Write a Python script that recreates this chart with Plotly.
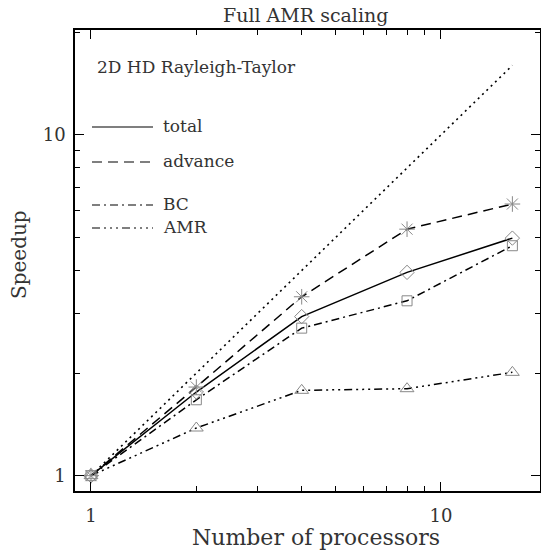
import plotly.graph_objects as go

procs = [1, 2, 4, 8, 16]
total = [1.0, 1.76, 2.93, 3.95, 4.98]
advance = [1.0, 1.82, 3.35, 5.29, 6.27]
bc = [1.0, 1.67, 2.71, 3.26, 4.73]
amr = [1.0, 1.38, 1.78, 1.80, 2.01]
ideal = [1, 2, 4, 8, 16]

series = [
    ("total", total, "solid", "diamond-open", 11),
    ("advance", advance, "10px,6px", "asterisk-open", 13),
    ("BC", bc, "8px,4px,2px,4px", "square-open", 10),
    ("AMR", amr, "8px,4px,2px,4px,2px,4px,2px,4px", "triangle-up-open", 12),
]

FONT = "DejaVu Serif"
TXT = "#333"
W, H = 541, 552
L, R_, T, B = 75, 540, 30, 491  # plot box in page pixels
PW, PH = R_ - L, B - T

fig = go.Figure()
fig.add_trace(go.Scatter(x=procs, y=ideal, mode="lines",
                         line=dict(color="black", width=1.6, dash="2px,4px"),
                         showlegend=False))
for name, vals, dash, sym, sz in series:
    fig.add_trace(go.Scatter(x=procs, y=vals, mode="lines",
                             line=dict(color="black", width=1.5, dash=dash),
                             showlegend=False))
for name, vals, dash, sym, sz in series:
    fig.add_trace(go.Scatter(x=procs, y=vals, mode="markers",
                             marker=dict(symbol=sym, size=sz, color="#888",
                                         line=dict(color="#888", width=1)),
                             showlegend=False))

def px(x):
    return (x - L) / PW

def py(y):
    return (B - y) / PH

# legend drawn by hand
leg_y = [127, 162, 205, 228]
for (name, vals, dash, sym, sz), yy in zip(series, leg_y):
    fig.add_shape(type="line", xref="paper", yref="paper", x0=px(92), x1=px(153),
                  y0=py(yy), y1=py(yy), line=dict(color="black", width=1.2, dash=dash))
    fig.add_annotation(xref="paper", yref="paper", x=px(161), y=py(yy - 1), text=name,
                       showarrow=False, xanchor="left", yanchor="middle",
                       font=dict(family=FONT, size=17, color=TXT))

fig.add_annotation(xref="paper", yref="paper", x=px(95), y=py(67),
                   text="2D HD Rayleigh-Taylor", showarrow=False,
                   xanchor="left", yanchor="middle",
                   font=dict(family=FONT, size=17, color=TXT))

# axis titles and title
fig.add_annotation(xref="paper", yref="paper", x=px(316), y=py(537),
                   text="Number of processors", showarrow=False,
                   xanchor="center", yanchor="middle",
                   font=dict(family=FONT, size=22, color=TXT))
fig.add_annotation(xref="paper", yref="paper", x=px(19), y=py(255),
                   text="Speedup", showarrow=False, textangle=-90,
                   xanchor="center", yanchor="middle",
                   font=dict(family=FONT, size=20, color=TXT))
fig.add_annotation(xref="paper", yref="paper", x=px(305), y=py(15),
                   text="Full AMR scaling", showarrow=False,
                   xanchor="center", yanchor="middle",
                   font=dict(family=FONT, size=19, color=TXT))

axis_common = dict(type="log", showgrid=False, zeroline=False, automargin=False,
                   showline=True, linecolor="black", linewidth=1.5, mirror="ticks",
                   ticks="inside", ticklen=9, tickwidth=1.2, tickcolor="black",
                   tickfont=dict(family=FONT, size=18, color=TXT),
                   tickvals=[1, 10], ticktext=["1", "10"])

fig.update_layout(
    width=W, height=H,
    margin=dict(l=L, r=W - R_, t=T, b=H - B),
    paper_bgcolor="white", plot_bgcolor="white",
    xaxis=dict(axis_common, range=[-0.0457, 1.283], ticklabelstandoff=8,
               minor=dict(ticks="inside", ticklen=5, tickwidth=1.2, tickcolor="black",
                          tickvals=[2, 3, 4, 5, 6, 7, 8, 9])),
    yaxis=dict(axis_common, range=[-0.045, 1.308], ticklabelstandoff=4,
               minor=dict(ticks="inside", ticklen=5, tickwidth=1.2, tickcolor="black",
                          tickvals=[2, 3, 4, 5, 6, 7, 8, 9, 20])),
)

fig.write_html("out.html", config={"displayModeBar": False},
               post_script="document.body.style.margin='0px';document.body.style.overflow='hidden';")
